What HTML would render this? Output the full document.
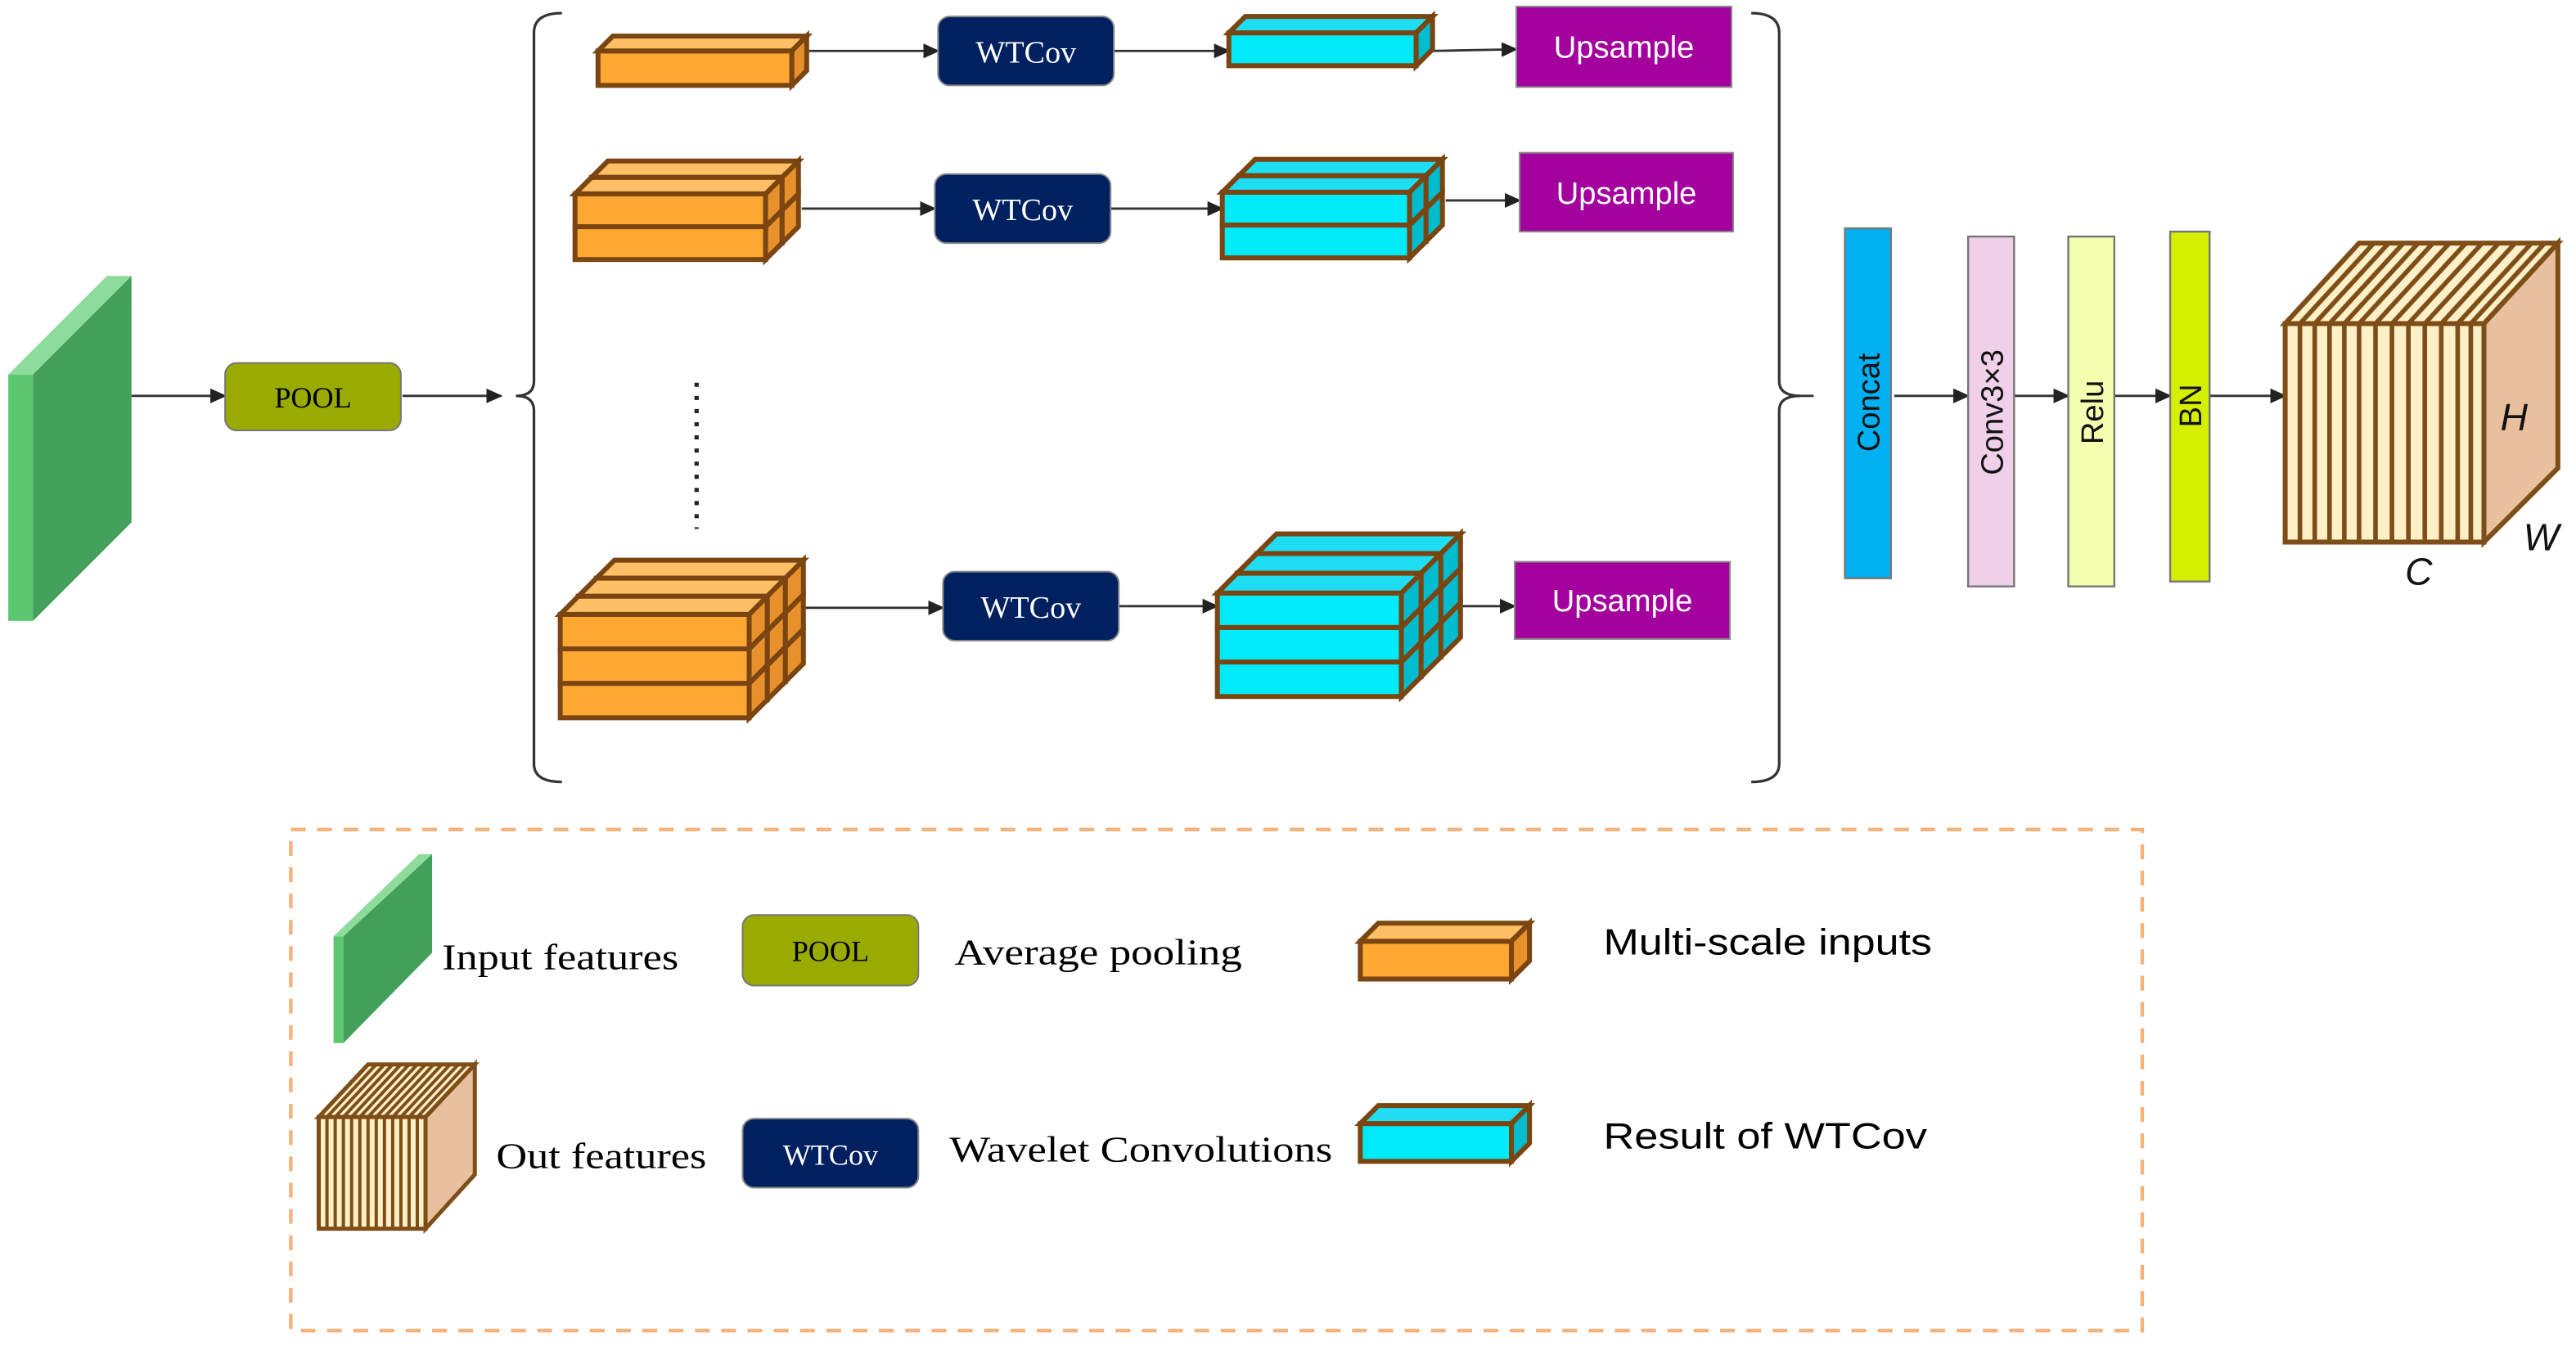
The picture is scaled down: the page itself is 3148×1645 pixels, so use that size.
<!DOCTYPE html>
<html><head><meta charset="utf-8"><style>
html,body{margin:0;padding:0;background:#fff;}
svg{display:block}
.o rect,.o polygon{stroke:#7A4510;stroke-width:3;stroke-linejoin:miter}
.o rect{fill:#FFA733}.o .t{fill:#FFBF66}.o .s{fill:#E8912C}
.c rect,.c polygon{stroke:#7A4510;stroke-width:3}
.c rect{fill:#00EBFA}.c .t{fill:#1FDDF2}.c .s{fill:#00BCCF}
.serif{font-family:"Liberation Serif",serif}
.sans{font-family:"Liberation Sans",sans-serif}
</style></head><body>
<svg width="3148" height="1645" viewBox="0 0 1568 819.4" xmlns="http://www.w3.org/2000/svg">
<defs>
<marker id="a" markerWidth="10" markerHeight="10" refX="9" refY="5" orient="auto" markerUnits="userSpaceOnUse"><path d="M0,0.5 L10,5 L0,9.5z" fill="#222"/></marker>
</defs>
<g stroke="#333" stroke-width="1.4" fill="none" marker-end="url(#a)">
<line x1="80" y1="241" x2="137" y2="241"/>
<line x1="245" y1="241" x2="305" y2="241"/>
<line x1="491" y1="31" x2="571" y2="31"/>
<line x1="678" y1="31" x2="748" y2="31"/>
<line x1="872" y1="31" x2="923" y2="30"/>
<line x1="488" y1="127" x2="569" y2="127"/>
<line x1="676" y1="127" x2="744" y2="127"/>
<line x1="880" y1="122" x2="925" y2="122"/>
<line x1="490" y1="370" x2="574" y2="370"/>
<line x1="681" y1="369" x2="741" y2="369"/>
<line x1="889" y1="369" x2="922" y2="369"/>
<line x1="1153" y1="241" x2="1198" y2="241"/>
<line x1="1226" y1="241" x2="1259" y2="241"/>
<line x1="1287" y1="241" x2="1321" y2="241"/>
<line x1="1345" y1="241" x2="1391" y2="241"/>
</g>
<line x1="1096" y1="241" x2="1104" y2="241" stroke="#333" stroke-width="1.4"/>
<path d="M342,8 Q325,8 325,20 L325,232 Q325,241 314,241 Q325,241 325,250 L325,465 Q325,476 342,476" fill="none" stroke="#333" stroke-width="1.6"/>
<path d="M1066,8 Q1083,8 1083,20 L1083,232 Q1083,241 1096,241 Q1083,241 1083,250 L1083,465 Q1083,476 1066,476" fill="none" stroke="#333" stroke-width="1.6"/>
<line x1="424" y1="233" x2="424" y2="322" stroke="#222" stroke-width="2.6" stroke-dasharray="2.5,5.5"/>
<polygon points="5,228 65,168 80,168 20,228" fill="#8EDC9B"/>
<polygon points="5,228 20,228 20,378 5,378" fill="#5CC670"/>
<polygon points="20,228 80,168 80,318 20,378" fill="#43A05A"/>
<rect x="137" y="221" width="107" height="41" rx="7" fill="#99AA00" stroke="#777" stroke-width="1"/>
<text x="190.5" y="248" class="serif" font-size="18" text-anchor="middle">POOL</text>
<g class="o"><rect x="364" y="31" width="118" height="21"/><polygon class="t" points="364,31 373,22 491,22 482,31"/><polygon class="s" points="482,31 491,22 491,43 482,52"/></g>
<g class="o">
<rect x="360" y="128" width="116" height="20"/><polygon class="s" points="476,128 486,118 486,138 476,148"/>
<rect x="360" y="108" width="116" height="20"/><polygon class="s" points="476,108 486,98 486,118 476,128"/><polygon class="t" points="360,108 370,98 486,98 476,108"/>
<rect x="350" y="138" width="116" height="20"/><polygon class="s" points="466,138 476,128 476,148 466,158"/>
<rect x="350" y="118" width="116" height="20"/><polygon class="s" points="466,118 476,108 476,128 466,138"/><polygon class="t" points="350,118 360,108 476,108 466,118"/>
</g>
<g class="o">
<rect x="363" y="394" width="115" height="21"/><polygon class="s" points="478,394 489,383 489,404 478,415"/>
<rect x="363" y="373" width="115" height="21"/><polygon class="s" points="478,373 489,362 489,383 478,394"/>
<rect x="363" y="352" width="115" height="21"/><polygon class="s" points="478,352 489,341 489,362 478,373"/><polygon class="t" points="363,352 374,341 489,341 478,352"/>
<rect x="352" y="405" width="115" height="21"/><polygon class="s" points="467,405 478,394 478,415 467,426"/>
<rect x="352" y="384" width="115" height="21"/><polygon class="s" points="467,384 478,373 478,394 467,405"/>
<rect x="352" y="363" width="115" height="21"/><polygon class="s" points="467,363 478,352 478,373 467,384"/><polygon class="t" points="352,363 363,352 478,352 467,363"/>
<rect x="341" y="416" width="115" height="21"/><polygon class="s" points="456,416 467,405 467,426 456,437"/>
<rect x="341" y="395" width="115" height="21"/><polygon class="s" points="456,395 467,384 467,405 456,416"/>
<rect x="341" y="374" width="115" height="21"/><polygon class="s" points="456,374 467,363 467,384 456,395"/><polygon class="t" points="341,374 352,363 467,363 456,374"/>
</g>
<g fill="#002060" stroke="#888" stroke-width="1">
<rect x="571" y="10" width="107" height="42" rx="7"/>
<rect x="569" y="106" width="107" height="42" rx="7"/>
<rect x="574" y="348" width="107" height="42" rx="7"/>
</g>
<g class="serif" font-size="19" fill="#fff" text-anchor="middle">
<text x="624.5" y="38">WTCov</text><text x="622.5" y="134">WTCov</text><text x="627.5" y="376">WTCov</text>
</g>
<g class="c"><rect x="748" y="20" width="114" height="20"/><polygon class="t" points="748,20 758,10 872,10 862,20"/><polygon class="s" points="862,20 872,10 872,30 862,40"/></g>
<g class="c">
<rect x="754" y="127" width="114" height="20"/><polygon class="s" points="868,127 878,117 878,137 868,147"/>
<rect x="754" y="107" width="114" height="20"/><polygon class="s" points="868,107 878,97 878,117 868,127"/><polygon class="t" points="754,107 764,97 878,97 868,107"/>
<rect x="744" y="137" width="114" height="20"/><polygon class="s" points="858,137 868,127 868,147 858,157"/>
<rect x="744" y="117" width="114" height="20"/><polygon class="s" points="858,117 868,107 868,127 858,137"/><polygon class="t" points="744,117 754,107 868,107 858,117"/>
</g>
<g class="c">
<rect x="765" y="379" width="112" height="21"/><polygon class="s" points="877,379 889,367 889,388 877,400"/>
<rect x="765" y="358" width="112" height="21"/><polygon class="s" points="877,358 889,346 889,367 877,379"/>
<rect x="765" y="337" width="112" height="21"/><polygon class="s" points="877,337 889,325 889,346 877,358"/><polygon class="t" points="765,337 777,325 889,325 877,337"/>
<rect x="753" y="391" width="112" height="21"/><polygon class="s" points="865,391 877,379 877,400 865,412"/>
<rect x="753" y="370" width="112" height="21"/><polygon class="s" points="865,370 877,358 877,379 865,391"/>
<rect x="753" y="349" width="112" height="21"/><polygon class="s" points="865,349 877,337 877,358 865,370"/><polygon class="t" points="753,349 765,337 877,337 865,349"/>
<rect x="741" y="403" width="112" height="21"/><polygon class="s" points="853,403 865,391 865,412 853,424"/>
<rect x="741" y="382" width="112" height="21"/><polygon class="s" points="853,382 865,370 865,391 853,403"/>
<rect x="741" y="361" width="112" height="21"/><polygon class="s" points="853,361 865,349 865,370 853,382"/><polygon class="t" points="741,361 753,349 865,349 853,361"/>
</g>
<g fill="#A4009E" stroke="#888" stroke-width="1">
<rect x="923" y="4" width="131" height="49"/>
<rect x="925" y="93" width="130" height="48"/>
<rect x="922" y="342" width="131" height="47"/>
</g>
<g class="sans" font-size="19" fill="#fff" text-anchor="middle">
<text x="988.5" y="35">Upsample</text><text x="990" y="124">Upsample</text><text x="987.5" y="372">Upsample</text>
</g>
<rect x="1123" y="139" width="28" height="213" fill="#00B0F0" stroke="#777" stroke-width="1.2"/>
<rect x="1198" y="144" width="28" height="213" fill="#F0D0E8" stroke="#777" stroke-width="1.2"/>
<rect x="1259" y="144" width="28" height="213" fill="#F5FFB0" stroke="#777" stroke-width="1.2"/>
<rect x="1321" y="141" width="24" height="213" fill="#D4F000" stroke="#777" stroke-width="1.2"/>
<g class="sans" font-size="19" fill="#111">
<text transform="translate(1144,245) rotate(-90)" text-anchor="middle">Concat</text>
<text transform="translate(1219,251) rotate(-90)" text-anchor="middle">Conv3×3</text>
<text transform="translate(1280,251) rotate(-90)" text-anchor="middle">Relu</text>
<text transform="translate(1340,247) rotate(-90)" text-anchor="middle">BN</text>
</g>
<g stroke="#7E4E18" stroke-width="3">
<polygon points="1391,197 1436,148 1557,148 1512,197" fill="#FFF0C8"/>
<polygon points="1512,197 1557,148 1557,285 1512,330" fill="#E8C09E"/>
<rect x="1391" y="197" width="121" height="133" fill="#FFF0C8"/>
<path d="M1400,197v133M1409,197v133M1418,197v133M1427,197v133M1436,197v133M1446,197v133M1456,197v133M1466,197v133M1476,197v133M1486,197v133M1496,197v133M1504,197v133
M1400,197l45,-49M1409,197l45,-49M1418,197l45,-49M1427,197l45,-49M1436,197l45,-49M1446,197l45,-49M1456,197l45,-49M1466,197l45,-49M1476,197l45,-49M1486,197l45,-49M1496,197l45,-49M1504,197l45,-49" fill="none" stroke-width="2.8"/>
</g>
<g class="sans" font-size="23" font-style="italic" fill="#111">
<text x="1522" y="262">H</text><text x="1536" y="335">W</text><text x="1464" y="356">C</text>
</g>
<rect x="177" y="505" width="1127" height="305" fill="none" stroke="#F7B27A" stroke-width="2.2" stroke-dasharray="9,7"/>
<polygon points="203,570 255,520 263,520 209,570" fill="#8EDC9B"/>
<polygon points="203,570 209,570 209,635 203,635" fill="#5CC670"/>
<polygon points="209,570 263,520 263,580 209,635" fill="#43A05A"/>
<text x="269" y="590" class="serif" font-size="22" textLength="144" lengthAdjust="spacingAndGlyphs">Input features</text>
<rect x="452" y="557" width="107" height="43" rx="7" fill="#99AA00" stroke="#777" stroke-width="1"/>
<text x="505.5" y="585" class="serif" font-size="18" text-anchor="middle">POOL</text>
<text x="581" y="587" class="serif" font-size="22" textLength="175" lengthAdjust="spacingAndGlyphs">Average pooling</text>
<g class="o"><rect x="828" y="573" width="92" height="23"/><polygon class="t" points="828,573 839,562 931,562 920,573"/><polygon class="s" points="920,573 931,562 931,585 920,596"/></g>
<text x="976" y="581" class="sans" font-size="22" textLength="200" lengthAdjust="spacingAndGlyphs">Multi-scale inputs</text>
<g stroke="#7E4E18" stroke-width="2.5">
<polygon points="194,680 224,648 289,648 259,680" fill="#FFF0C8"/>
<polygon points="259,680 289,648 289,715 259,748" fill="#E8C09E"/>
<rect x="194" y="680" width="65" height="68" fill="#FFF0C8"/>
<path d="M199,680v68M204,680v68M209,680v68M214,680v68M219,680v68M224,680v68M229,680v68M234,680v68M239,680v68M244,680v68M249,680v68M254,680v68
M199,680l30,-32M204,680l30,-32M209,680l30,-32M214,680l30,-32M219,680l30,-32M224,680l30,-32M229,680l30,-32M234,680l30,-32M239,680l30,-32M244,680l30,-32M249,680l30,-32M254,680l30,-32" fill="none" stroke-width="2"/>
</g>
<text x="302" y="711" class="serif" font-size="22" textLength="128" lengthAdjust="spacingAndGlyphs">Out features</text>
<rect x="452" y="681" width="107" height="42" rx="7" fill="#002060" stroke="#888" stroke-width="1"/>
<text x="505.5" y="709" class="serif" font-size="18" fill="#fff" text-anchor="middle">WTCov</text>
<text x="578" y="707" class="serif" font-size="22" textLength="233" lengthAdjust="spacingAndGlyphs">Wavelet Convolutions</text>
<g class="c"><rect x="828" y="684" width="92" height="23"/><polygon class="t" points="828,684 839,673 931,673 920,684"/><polygon class="s" points="920,684 931,673 931,696 920,707"/></g>
<text x="976" y="699" class="sans" font-size="22" textLength="197" lengthAdjust="spacingAndGlyphs">Result of WTCov</text>
</svg>
</body></html>
